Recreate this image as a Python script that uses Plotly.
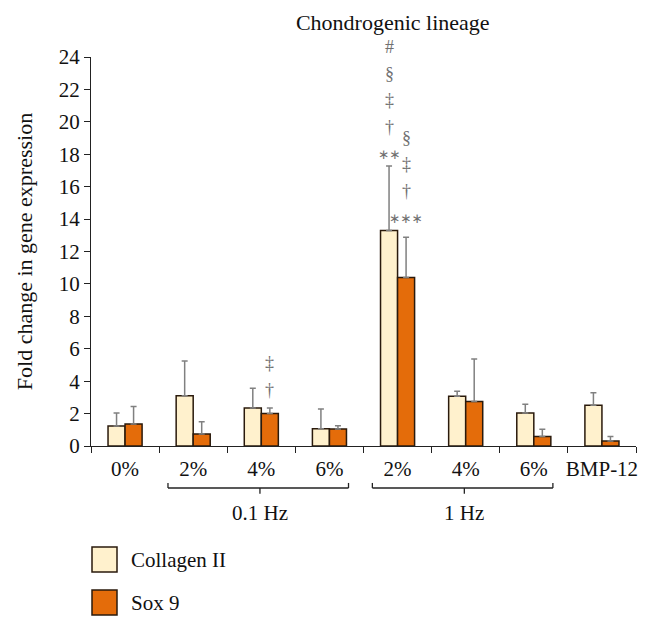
import plotly.graph_objects as go

# ---------------- data ----------------
categories = ["0%", "2%", "4%", "6%", "2%", "4%", "6%", "BMP-12"]
collagen_mean = [1.23, 3.10, 2.35, 1.07, 13.29, 3.07, 2.04, 2.51]
collagen_err = [0.81, 2.15, 1.21, 1.21, 3.99, 0.31, 0.53, 0.78]
sox9_mean = [1.36, 0.74, 2.00, 1.05, 10.39, 2.74, 0.58, 0.31]
sox9_err = [1.07, 0.76, 0.35, 0.20, 2.49, 2.63, 0.45, 0.27]

groups = ["0.1 Hz", "1 Hz"]
group_members = [[1, 2, 3], [4, 5, 6]]

# significance marks: (category index, series, symbols bottom -> top)
sig_marks = [
    (2, "sox", ["†", "‡"]),
    (4, "col", ["∗∗", "†", "‡", "§", "#"]),
    (4, "sox", ["∗∗∗", "†", "‡", "§"]),
]
# ---------------------------------------

FONT = "Liberation Serif"
COL_FILL = "#FFF1CD"
SOX_FILL = "#E46C0A"
EDGE = "#2a1a0c"
ERR = "#808080"
GRAY_TXT = "#707070"

# page body has an 8px margin; compensate so the plot area matches
W, H = 643, 622
ML, MT, PW, PH = 83, 49, 545, 389
MR = W - ML - PW
MB = H - MT - PH
YMAX = 24

n = len(categories)
xs = list(range(n))

fig = go.Figure()
fig.add_trace(go.Bar(
    x=xs, y=collagen_mean, name="Collagen II",
    marker=dict(color=COL_FILL, line=dict(color=EDGE, width=1.5)),
    error_y=dict(type="data", array=collagen_err, arrayminus=[0] * n, symmetric=False,
                 color=ERR, thickness=1.5, width=3),
    showlegend=False,
))
fig.add_trace(go.Bar(
    x=xs, y=sox9_mean, name="Sox 9",
    marker=dict(color=SOX_FILL, line=dict(color=EDGE, width=1.5)),
    error_y=dict(type="data", array=sox9_err, arrayminus=[0] * n, symmetric=False,
                 color=ERR, thickness=1.5, width=3),
    showlegend=False,
))
# invisible trace to carry the label axis
fig.add_trace(go.Scatter(x=xs, y=[0] * n, xaxis="x2", mode="markers",
                         marker=dict(opacity=0), hoverinfo="skip", showlegend=False))

# significance annotations (paper y so marks above the axis range stay visible)
gap = {"col": 0.75, "sox": 1.2}
step = 1.65
for idx, ser, syms in sig_marks:
    if ser == "col":
        base = collagen_mean[idx] + collagen_err[idx]
        xo = idx - 0.125
    else:
        base = sox9_mean[idx] + sox9_err[idx]
        xo = idx + 0.125
    g = gap[ser] if idx == 4 else 1.1
    for k, s in enumerate(syms):
        is_star = "∗" in s
        fig.add_annotation(x=xo, y=(base + g + k * step) / YMAX, text=s, showarrow=False,
                           xref="x", yref="paper", yanchor="middle",
                           font=dict(family=FONT if not is_star else "DejaVu Sans",
                                     size=13.5 if is_star else 18, color=GRAY_TXT))

# group brackets (below the axis)
y_line = -0.108
for label, members in zip(groups, group_members):
    x0 = members[0] - 0.37
    x1 = members[-1] + 0.28
    xm = (members[0] + members[-1]) / 2 - 0.02
    line = dict(color="#222222", width=1.3)
    fig.add_shape(type="line", xref="x", yref="paper", x0=x0, x1=x1, y0=y_line, y1=y_line, line=line)
    fig.add_shape(type="line", xref="x", yref="paper", x0=x0, x1=x0, y0=y_line, y1=y_line + 0.013, line=line)
    fig.add_shape(type="line", xref="x", yref="paper", x0=x1, x1=x1, y0=y_line, y1=y_line + 0.013, line=line)
    fig.add_shape(type="line", xref="x", yref="paper", x0=xm, x1=xm, y0=y_line, y1=y_line - 0.015, line=line)
    fig.add_annotation(x=xm, y=y_line - 0.064, xref="x", yref="paper", text=label,
                       showarrow=False, yanchor="middle",
                       font=dict(family=FONT, size=21, color="#111111"))

# custom legend (large swatches)
legend_items = [("Collagen II", COL_FILL), ("Sox 9", SOX_FILL)]
for i, (name, color) in enumerate(legend_items):
    ytop = 547 + i * 43  # pixel rows in reference frame
    fig.add_shape(type="rect", xref="paper", yref="paper",
                  x0=(92 - 91) / PW, x1=(117 - 91) / PW,
                  y0=(446 - ytop) / PH, y1=(446 - ytop - 25) / PH,
                  line=dict(color=EDGE, width=1.5), fillcolor=color)
    fig.add_annotation(xref="paper", yref="paper", x=(129 - 91) / PW,
                       y=(446 - ytop - 12.5) / PH, text=name, showarrow=False,
                       xanchor="left", yanchor="middle",
                       font=dict(family=FONT, size=21, color="#111111"))

fig.update_layout(
    width=W, height=H,
    margin=dict(l=ML, r=MR, t=MT, b=MB, pad=0),
    paper_bgcolor="white", plot_bgcolor="white",
    barmode="group", bargap=0.5, bargroupgap=0,
    font=dict(family=FONT, size=21, color="#111111"),
    title=dict(text="Chondrogenic lineage", x=(364 - 8) / W, xref="paper", xanchor="center",
               y=1 - 14 / H, yanchor="middle",
               font=dict(family=FONT, size=22, color="#111111")),
    xaxis=dict(range=[-0.5, n - 0.5], tickmode="array",
               tickvals=[i - 0.5 for i in range(n + 1)], showticklabels=False,
               ticks="outside", ticklen=6, tickwidth=1.3, tickcolor="#222222",
               showline=True, linecolor="#222222", linewidth=1.3,
               showgrid=False, zeroline=False, fixedrange=True),
    xaxis2=dict(overlaying="x", side="bottom", range=[-0.5, n - 0.5],
                tickmode="array", tickvals=xs, ticktext=categories,
                ticks="outside", ticklen=4, tickcolor="rgba(0,0,0,0)",
                showline=False, showgrid=False, zeroline=False,
                tickfont=dict(family=FONT, size=21, color="#111111")),
    yaxis=dict(range=[0, YMAX], tickmode="linear", tick0=0, dtick=2,
               ticks="outside", ticklen=6, tickwidth=1.3, tickcolor="#222222",
               showline=True, linecolor="#222222", linewidth=1.3,
               showgrid=False, zeroline=False,
               title=dict(text="Fold change in gene expression", standoff=19,
                          font=dict(family=FONT, size=22, color="#111111")),
               tickfont=dict(family=FONT, size=21, color="#111111")),
)

fig.write_html("out.html")
